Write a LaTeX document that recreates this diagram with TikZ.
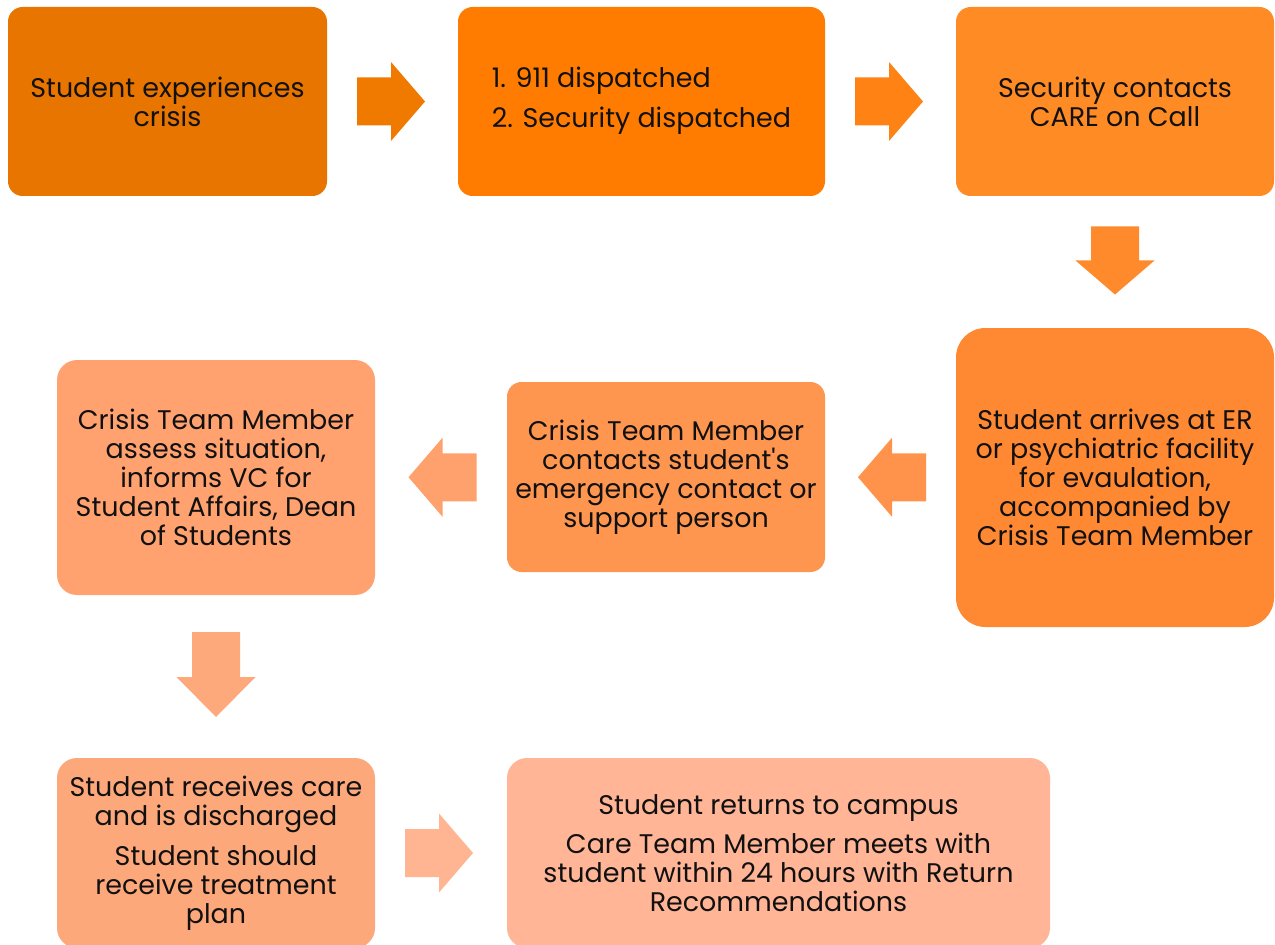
\documentclass[tikz,border=0pt]{standalone}
\usepackage{fontspec}
\setmainfont{Poppins}[Ligatures=TeXOff]
\usetikzlibrary{calc}
\definecolor{c1}{HTML}{E87500}
\definecolor{c2}{HTML}{FF7C00}
\definecolor{c3}{HTML}{FF8B25}
\definecolor{c4}{HTML}{FF8833}
\definecolor{c5}{HTML}{FF9650}
\definecolor{c6}{HTML}{FFA270}
\definecolor{c7}{HTML}{FDA87B}
\definecolor{c8}{HTML}{FFB596}
\definecolor{a1}{HTML}{F07A00}
\definecolor{a2}{HTML}{FF8214}
\definecolor{a3}{HTML}{FF8A2C}
\definecolor{a4}{HTML}{FF934C}
\definecolor{a5}{HTML}{FFA16C}
\definecolor{a6}{HTML}{FDA97B}
\definecolor{a7}{HTML}{FFB492}
\definecolor{txt}{HTML}{111111}
\newcommand\myarrow[5]{%
  \fill[#1, shift={#2}, rotate=#3]
    ({-(#4+#5)/2},-24) -- ({(#4-#5)/2},-24) -- ({(#4-#5)/2},-39.5) --
    ({(#4+#5)/2},0) -- ({(#4-#5)/2},39.5) -- ({(#4-#5)/2},24) --
    ({-(#4+#5)/2},24) -- cycle;}
\begin{document}
\begin{tikzpicture}[x=0.75pt,y=-0.75pt,
  box/.style={inner sep=0pt, align=center, text=txt,
    font=\fontsize{20.2}{21.75}\selectfont}]
\useasboundingbox (0,0) rectangle (1275,945);
\clip (0,0) rectangle (1275,945);
\node[box, fill=c1, rounded corners=11pt, minimum width=239.25pt, minimum height=141.75pt] (b1) at (167.5,101.5)
  {Student experiences\\crisis};
\node[box, fill=c2, rounded corners=11pt, minimum width=275.25pt, minimum height=141.75pt] (b2) at (641.5,101.5)
  {\begin{tabular}{@{}l@{}}1. 911 dispatched\\[8pt]2. Security dispatched\end{tabular}};
\node[box, fill=c3, rounded corners=11pt, minimum width=238.5pt, minimum height=141.75pt] (b3) at (1115,101.5)
  {Security contacts\\CARE on Call};
\node[box, fill=c4, rounded corners=22pt, minimum width=238.5pt, minimum height=224.25pt] (b4) at (1115,477.5)
  {Student arrives at ER\\or psychiatric facility\\for evaulation,\\accompanied by\\Crisis Team Member};
\node[box, fill=c5, rounded corners=11pt, minimum width=238.5pt, minimum height=142.5pt] (b5) at (666,477)
  {Crisis Team Member\\contacts student's\\emergency contact or\\support person};
\node[box, fill=c6, rounded corners=15pt, minimum width=238.5pt, minimum height=176.25pt] (b6) at (216,477.5)
  {Crisis Team Member\\assess situation,\\informs VC for\\Student Affairs, Dean\\of Students};
\node[box, fill=c7, rounded corners=15pt, minimum width=238.5pt, minimum height=142.5pt] (b7) at (216,853)
  {Student receives care\\and is discharged\\[8pt]Student should\\receive treatment\\plan};
\node[box, fill=c8, rounded corners=15pt, minimum width=407.25pt, minimum height=142.5pt] (b8) at (778.5,853)
  {Student returns to campus\\[8pt]Care Team Member meets with\\student within 24 hours with Return\\Recommendations};
\myarrow{a1}{($(b1.east)!0.5!(b2.west)+(-1.5,0)$)}{0}{34}{34}
\myarrow{a2}{($(b2.east)!0.5!(b3.west)+(-1.5,0)$)}{0}{34}{34}
\myarrow{a3}{($(b3.south)!0.5!(b4.north)+(0,-1.5)$)}{-90}{34}{34}
\myarrow{a4}{($(b4.west)!0.5!(b5.east)+(1.5,0)$)}{180}{34}{34}
\myarrow{a5}{($(b5.west)!0.5!(b6.east)+(1.5,0)$)}{180}{34}{34}
\myarrow{a6}{($(b6.south)!0.5!(b7.north)+(0,-2)$)}{-90}{45}{40}
\myarrow{a7}{($(b7.east)!0.5!(b8.west)+(-2,0)$)}{0}{34}{34}
\end{tikzpicture}
\end{document}
